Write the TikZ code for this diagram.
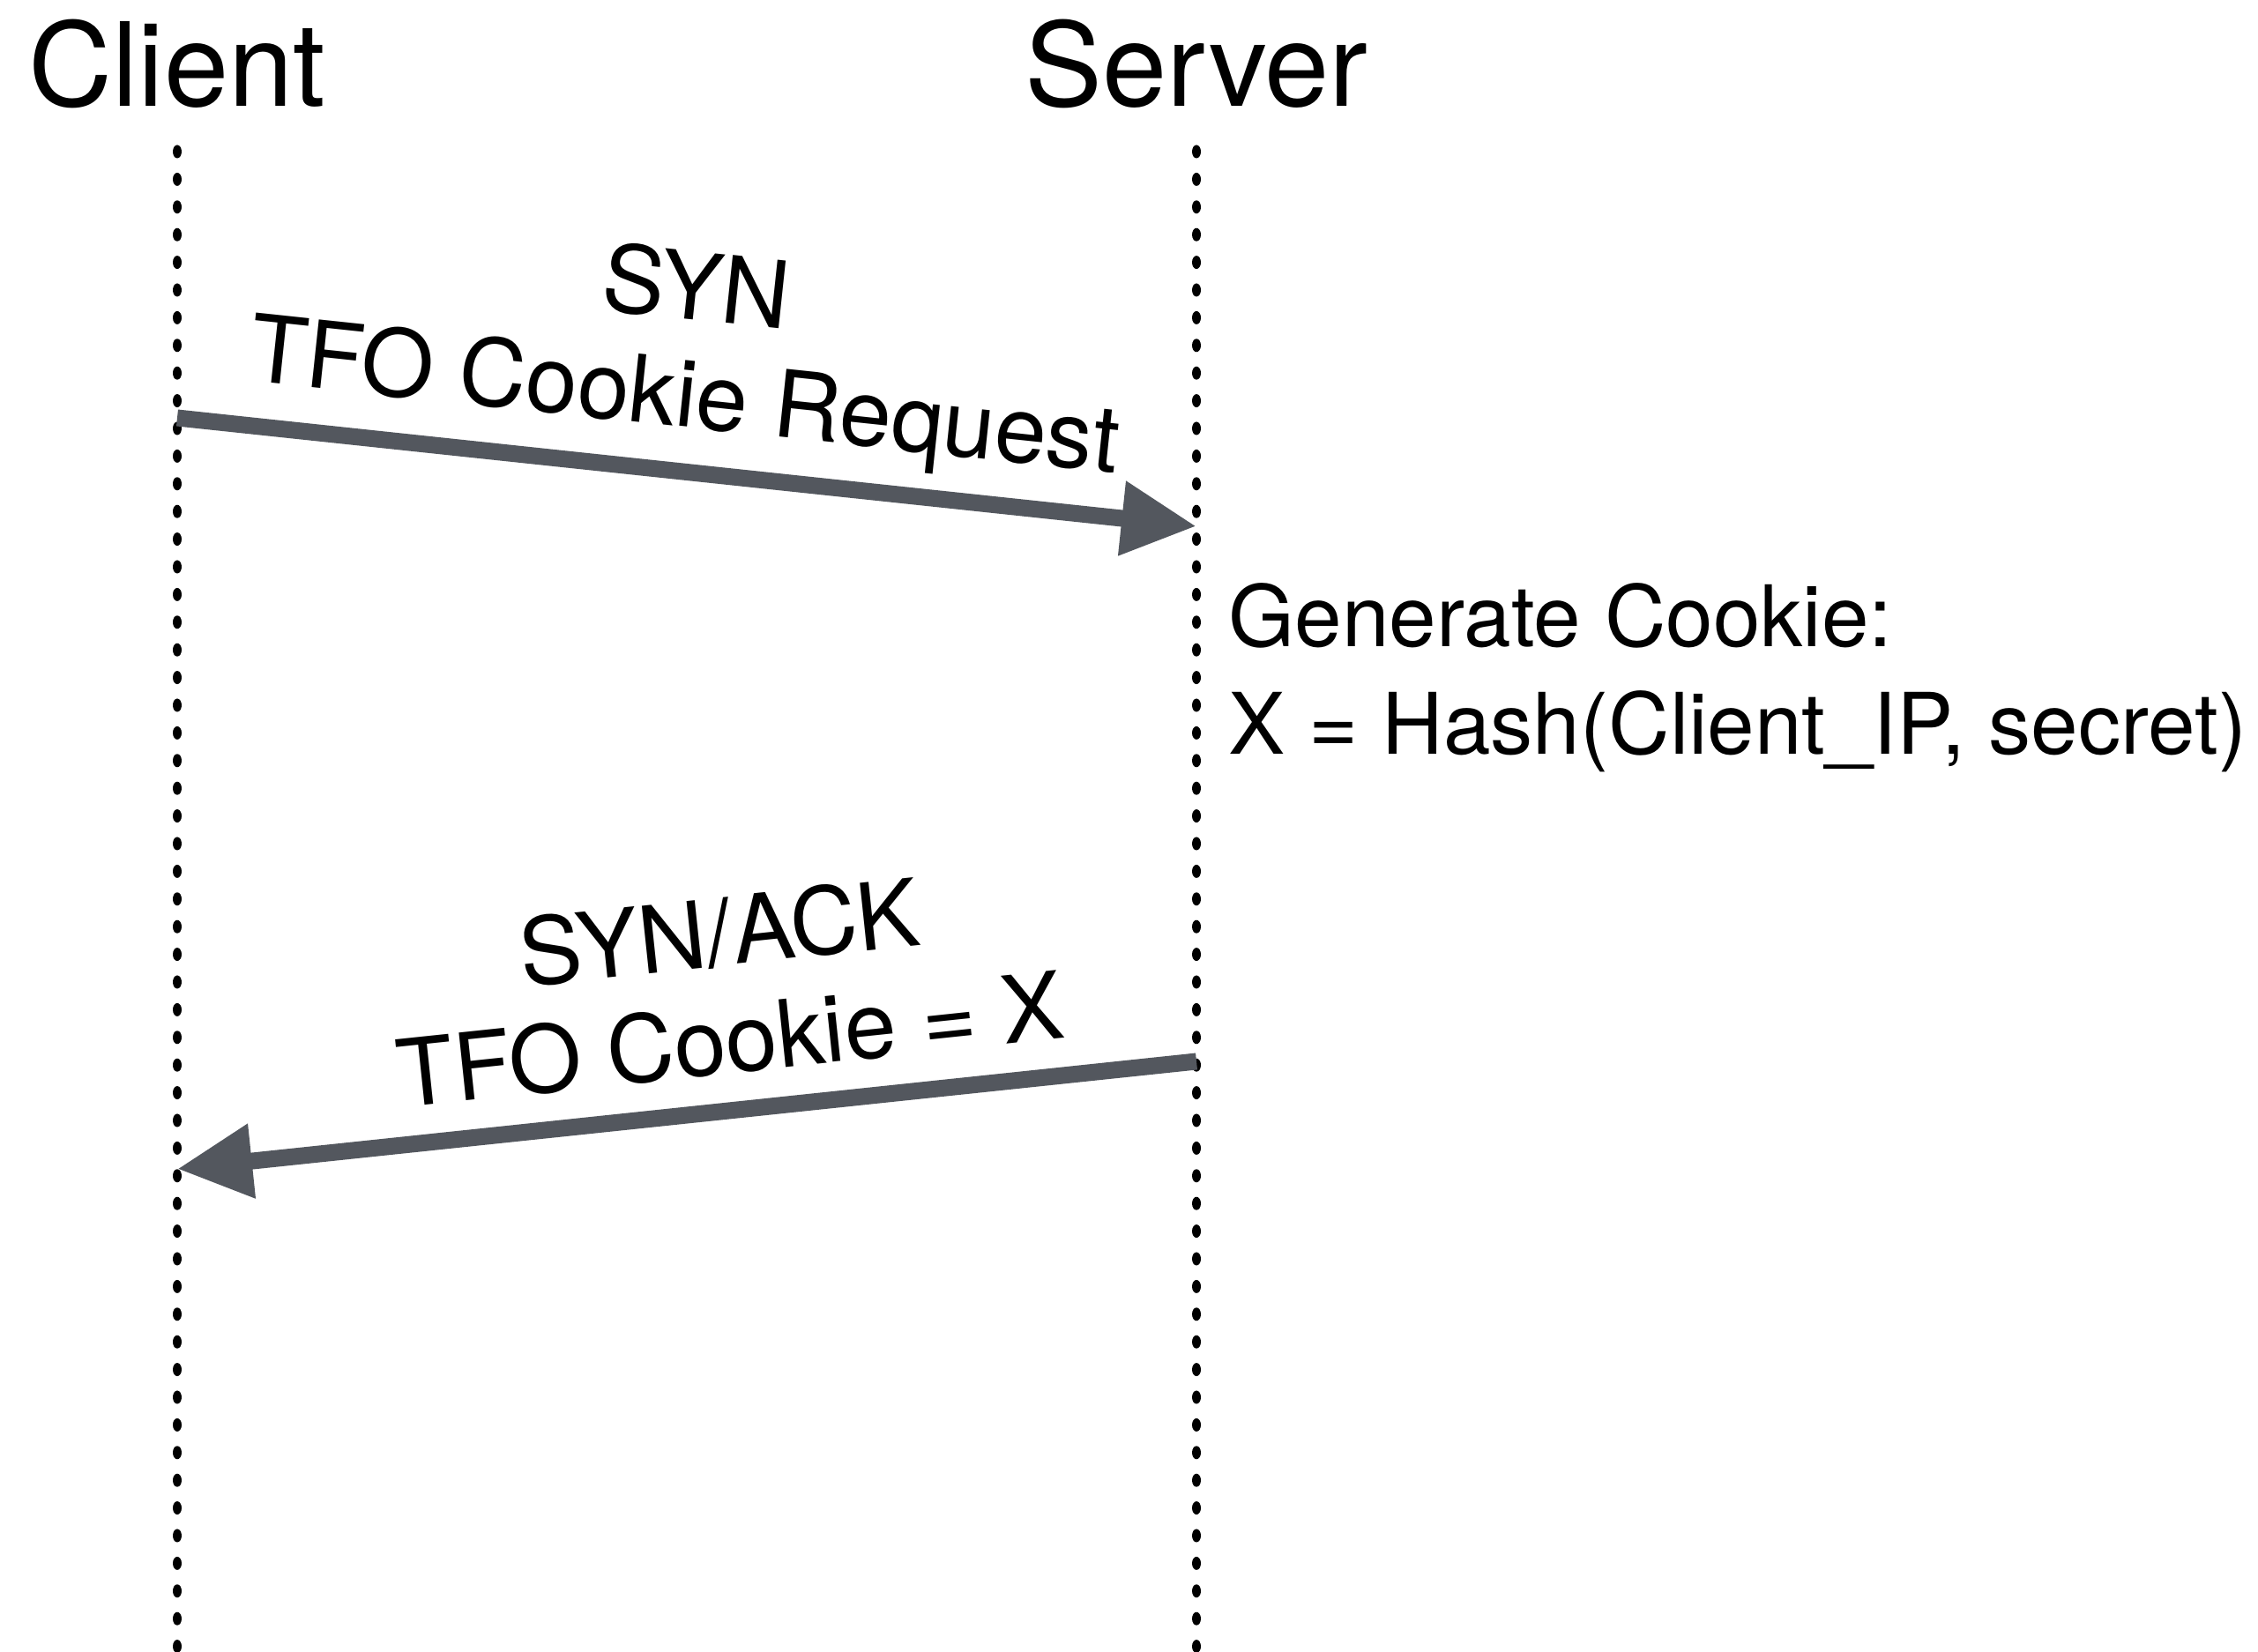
\documentclass[tikz,border=0pt]{standalone}
\usepackage{fontspec}
\setmainfont{TeX Gyre Heros}
\usetikzlibrary{arrows.meta}
\definecolor{msggray}{RGB}{83,87,94}
\begin{document}
\begin{tikzpicture}[
    msg/.style={line width=0.19cm, color=msggray, -{Triangle[length=0.85cm, width=0.8cm]}},
    lbl/.style={font=\fontsize{30.1}{34.7}\selectfont, text=black, align=center, sloped, inner sep=0pt},
    who/.style={font=\fontsize{37.5}{44}\selectfont, anchor=base, inner sep=0pt},
    note/.style={font=\fontsize{27.4}{34.6}\selectfont, align=left, anchor=base west, inner sep=0pt}
  ]

  % Fix the page size
  \useasboundingbox (0,0) rectangle (25.61,-18.74);

  % x positions of the two lifelines
  \def\xC{2.01}
  \def\xS{13.57}

  % Names on top
  \node[who] (client) at (\xC,-1.21) {Client};
  \node[who] (server) at (\xS,-1.21) {Server};

  % Dotted lifelines
  \foreach \i in {0,...,54} {
    \fill (\xC,-1.72-\i*0.314) ellipse (0.05 and 0.075);
    \fill (\xS,-1.72-\i*0.314) ellipse (0.05 and 0.075);
  }

  % End points of the messages
  \coordinate (c1) at (\xC,-4.74);
  \coordinate (s1) at (\xS,-5.97);
  \coordinate (s2) at (\xS,-12.04);
  \coordinate (c2) at (\xC,-13.26);

  % SYN from client to server
  \draw[msg] (c1) -- node[lbl, pos=0.49, above=0.18cm] (syn) {SYN\\TFO Cookie Request} (s1);

  % Server side work (base is the last line)
  \node[note] (gen) at (13.93,-8.55) {Generate Cookie:\\X = Hash(Client\_IP, secret)};

  % SYN/ACK back to the client
  \draw[msg] (s2) -- node[lbl, pos=0.45, above=0.31cm] (synack) {SYN/ACK\\TFO Cookie = X} (c2);

\end{tikzpicture}
\end{document}
